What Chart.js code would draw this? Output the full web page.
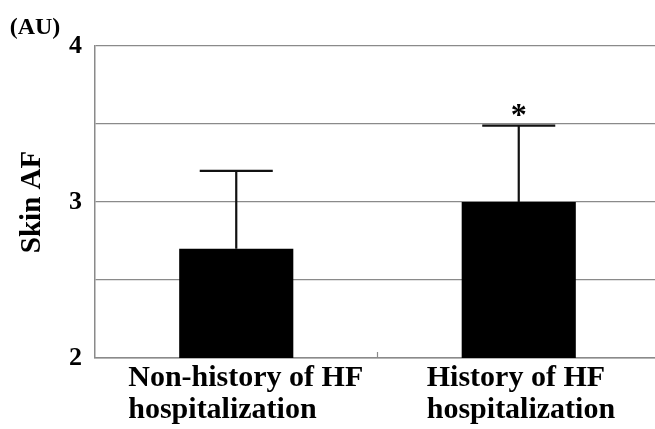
<!DOCTYPE html>
<html lang="en">
<head>
  <meta charset="UTF-8" />
  <title>Skin AF by HF hospitalization history</title>
  <script src="https://cdn.jsdelivr.net/npm/chart.js"></script>
  <style>
    html, body {
      margin: 0;
      padding: 0;
      background: #fff;
      overflow: hidden;
    }
    .wrap {
      width: 660px;
      height: 429px;
    }
  </style>
</head>
<body>
  <div class="wrap">
    <canvas id="afChart" width="660" height="429"></canvas>
  </div>

  <script>
    // values
    const categories = [
      ['Non-history of HF', 'hospitalization'],
      ['History of HF', 'hospitalization']
    ];
    const means = [2.7, 3.0];
    const sds = [0.5, 0.49];
    const sigMarks = ['', '*'];
    const yTicks = [2, 2.5, 3, 3.5, 4];
    const yTickLabels = ['2', '', '3', '', '4'];
    const unitLabel = '(AU)';
    const yTitle = 'Skin AF';

    const serif = "'Liberation Serif', 'Times New Roman', serif";
    const gridGray = '#8a8a8a';

    // error bars + asterisk on top of the bars
    const errorBars = {
      id: 'errorBars',
      afterDatasetsDraw(chart) {
        const ctx = chart.ctx;
        const y = chart.scales.y;
        const meta = chart.getDatasetMeta(0);
        ctx.save();
        ctx.strokeStyle = '#111';
        ctx.lineWidth = 2.2;
        meta.data.forEach((bar, i) => {
          const top = y.getPixelForValue(means[i] + sds[i]);
          const half = bar.width * 0.32;
          ctx.beginPath();
          ctx.moveTo(bar.x, bar.y);
          ctx.lineTo(bar.x, top);
          ctx.moveTo(bar.x - half, top);
          ctx.lineTo(bar.x + half, top);
          ctx.stroke();
          if (sigMarks[i]) {
            ctx.fillStyle = '#000';
            ctx.font = 'bold 32px ' + serif;
            ctx.textAlign = 'center';
            ctx.textBaseline = 'alphabetic';
            ctx.fillText(sigMarks[i], bar.x, top - 1);
          }
        });
        ctx.restore();
      }
    };

    // category labels (left aligned blocks), divider tick and the unit text
    const labelOffsets = [-108, -92];
    const extraText = {
      id: 'extraText',
      afterDraw(chart) {
        const ctx = chart.ctx;
        const x = chart.scales.x;
        const bottom = chart.chartArea.bottom;
        ctx.save();

        ctx.strokeStyle = gridGray;
        ctx.lineWidth = 1.2;
        for (let i = 0; i < categories.length - 1; i++) {
          const px = x.getPixelForValue(i + 0.5);
          ctx.beginPath();
          ctx.moveTo(px, bottom);
          ctx.lineTo(px, bottom - 6);
          ctx.stroke();
        }

        ctx.fillStyle = '#000';
        ctx.font = 'bold 30px ' + serif;
        ctx.textAlign = 'left';
        ctx.textBaseline = 'alphabetic';
        categories.forEach((lines, i) => {
          const left = x.getPixelForValue(i) + labelOffsets[i];
          lines.forEach((line, j) => {
            ctx.fillText(line, left, bottom + 28 + j * 32);
          });
        });

        ctx.font = 'bold 24px ' + serif;
        ctx.textAlign = 'center';
        ctx.fillText(unitLabel, 35, 34);
        ctx.restore();
      }
    };

    new Chart(document.getElementById('afChart').getContext('2d'), {
      type: 'bar',
      data: {
        labels: categories.map(c => c.join(' ')),
        datasets: [{
          data: means,
          backgroundColor: '#000',
          borderWidth: 0,
          barPercentage: 0.404,
          categoryPercentage: 1
        }]
      },
      options: {
        responsive: false,
        animation: false,
        layout: { padding: { top: 46, left: 0, right: 0, bottom: 0 } },
        plugins: {
          legend: { display: false },
          tooltip: { enabled: false }
        },
        scales: {
          x: {
            grid: { display: false },
            border: { display: true, color: gridGray, width: 1.5 },
            ticks: { display: false },
            afterFit(scale) { scale.height = 71; }
          },
          y: {
            min: 2,
            max: 4,
            afterBuildTicks(scale) {
              scale.ticks = yTicks.map(v => ({ value: v }));
            },
            ticks: {
              color: '#000',
              padding: 13,
              font: { family: serif, size: 26, weight: 'bold' },
              callback: (v) => yTickLabels[yTicks.indexOf(v)] || ''
            },
            grid: { color: gridGray, lineWidth: 1.2, drawTicks: false },
            border: { display: true, color: gridGray, width: 1.5 },
            title: {
              display: true,
              text: yTitle,
              color: '#000',
              font: { family: serif, size: 29, weight: 'bold' },
              padding: { top: 15, bottom: 0 }
            },
            afterFit(scale) { scale.width = 95; }
          }
        }
      },
      plugins: [errorBars, extraText]
    });
  </script>
</body>
</html>
